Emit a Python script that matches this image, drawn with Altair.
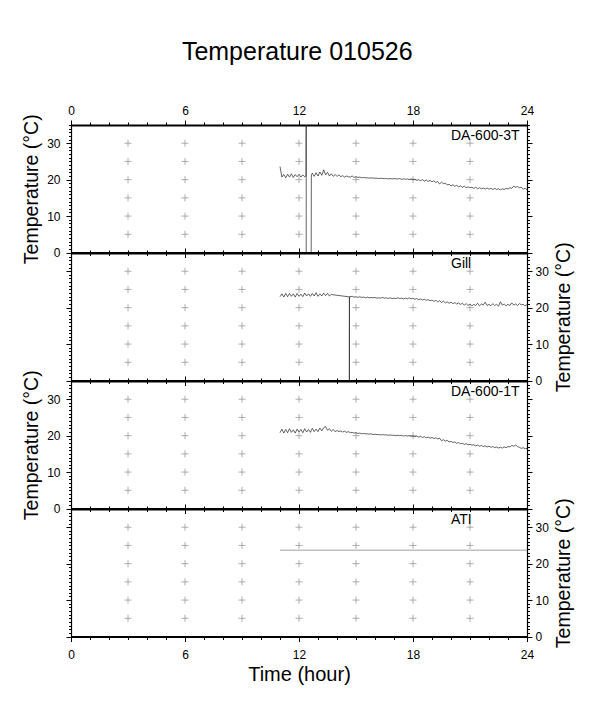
import altair as alt
import pandas as pd

FONT = "Liberation Sans"
TITLE = "Temperature 010526"
X_TITLE = "Time (hour)"
Y_TITLE = "Temperature (°C)"

HOUR_TICKS = list(range(0, 25))
TEMP_TICKS = list(range(0, 36))
GRID_HOURS = [3, 6, 9, 12, 15, 18, 21]
GRID_TEMPS = [5, 10, 15, 20, 25, 30]

STEP = 0.1

# ---- DA-600-3T ----
T3_A_START = 11.0
T3_A = [23.6, 20.7, 21.4, 20.5, 21.5, 20.7, 21.6, 20.6, 21.4, 20.8, 21.5, 20.7, 21.3, 20.8]
T3_GAP_HOURS = [12.37, 12.38, 12.38, 12.64, 12.65]
T3_GAP_TEMPS = [21.0, 45.0, -5.0, -5.0, 21.3]
T3_B_START = 12.7
T3_B = [
    21.8, 20.9, 21.9, 21.0, 22.1, 21.2, 22.7, 21.3, 22.0, 21.0,
    21.6, 20.9, 21.4, 20.9, 21.3, 20.8, 21.1, 20.7, 21.0, 20.8,
    20.7, 21.0, 20.6, 20.8, 20.6, 20.7, 20.5, 20.6, 20.5, 20.5,
    20.4, 20.5, 20.4, 20.4, 20.4, 20.3, 20.4, 20.3, 20.3, 20.3,
    20.2, 20.3, 20.2, 20.3, 20.2, 20.2, 20.3, 20.1, 20.2, 20.1,
    20.2, 20.0, 20.2, 20.0, 20.1, 19.8, 20.0, 19.7, 20.0, 19.6,
    19.9, 19.5, 19.8, 19.4, 19.7, 19.2, 19.5, 18.8, 19.3, 18.9,
    19.0, 18.6, 18.7, 18.3, 18.6, 18.2, 18.4, 18.0, 18.3, 17.9,
    18.2, 17.8, 18.0, 17.8, 17.9, 17.6, 17.9, 17.5, 17.8, 17.5,
    17.7, 17.4, 17.7, 17.4, 17.6, 17.3, 17.6, 17.3, 17.5, 17.2,
    17.5, 17.3, 17.6, 17.4, 17.8, 17.6, 18.2, 17.9, 18.1, 17.8,
    17.9, 17.4, 17.6, 17.3,
]

# ---- Gill ----
G_A_START = 11.0
G_A = [
    23.0, 23.8, 22.9, 23.9, 23.0, 23.9, 23.1, 23.8, 22.9, 23.9,
    23.1, 23.7, 23.0, 24.0, 23.2, 23.8, 23.1, 23.9, 23.2, 24.1,
    23.1, 23.8, 23.2, 24.0, 23.3, 23.9, 23.2, 23.6,
]
G_GAP_HOURS = [14.65, 14.65, 14.66]
G_GAP_TEMPS = [22.95, -5.0, 23.0]
G_B_START = 14.8
G_B = [
    23.1, 22.9, 23.0, 22.8, 23.0, 22.8, 22.9, 22.7, 22.9, 22.7,
    22.8, 22.7, 22.8, 22.6, 22.7, 22.6, 22.8, 22.6, 22.7, 22.5,
    22.7, 22.5, 22.6, 22.5, 22.7, 22.5, 22.6, 22.4, 22.6, 22.4,
    22.7, 22.4, 22.6, 22.3, 22.5, 22.2, 22.4, 22.1, 22.3, 22.0,
    22.2, 21.9, 22.1, 21.7, 22.0, 21.6, 21.9, 21.4, 21.8, 21.3,
    21.6, 21.2, 21.5, 21.1, 21.4, 21.0, 21.3, 20.9, 21.2, 20.7,
    21.1, 20.6, 21.0, 20.5, 20.9, 20.6, 21.2, 20.5, 21.0, 20.7,
    21.5, 20.6, 20.9, 20.5, 21.1, 20.6, 20.9, 20.4, 21.6, 20.7,
    21.0, 20.5, 20.9, 20.6, 21.3, 20.7, 21.0, 20.6, 21.1, 20.8,
    20.9, 20.5, 20.8,
]

# ---- DA-600-1T ----
T1_START = 11.0
T1 = [
    20.8, 21.8, 20.7, 21.7, 20.8, 21.9, 20.9, 21.6, 20.7, 21.8,
    21.0, 21.7, 20.8, 21.9, 21.0, 21.7, 20.9, 22.0, 21.1, 21.8,
    21.1, 22.1, 21.3, 22.2, 22.5, 21.5, 21.9, 21.2, 21.7, 21.1,
    21.4, 21.1, 21.3, 21.0, 21.2, 20.9, 21.1, 20.8, 20.9, 20.7,
    20.8, 20.6, 20.7, 20.5, 20.6, 20.5, 20.5, 20.4, 20.5, 20.3,
    20.4, 20.3, 20.3, 20.2, 20.3, 20.2, 20.2, 20.1, 20.2, 20.1,
    20.1, 20.0, 20.1, 20.0, 20.1, 19.9, 20.0, 19.9, 20.0, 19.8,
    19.9, 19.7, 19.9, 19.6, 19.8, 19.5, 19.7, 19.4, 19.6, 19.3,
    19.5, 19.2, 19.4, 19.1, 19.3, 18.6, 18.9, 18.5, 18.7, 18.3,
    18.4, 18.1, 18.3, 17.9, 18.1, 17.8, 17.9, 17.6, 17.8, 17.5,
    17.6, 17.4, 17.5, 17.2, 17.4, 17.1, 17.3, 17.0, 17.2, 16.9,
    17.1, 16.8, 17.0, 16.7, 16.9, 16.6, 16.8, 16.6, 16.9, 16.7,
    17.0, 16.9, 17.3, 17.1, 17.4, 17.0, 16.8, 16.5, 16.7, 16.4,
    16.5,
]

# ---- ATI ----
ATI_HOURS = [11.0, 24.0]
ATI_TEMPS = [23.7, 23.7]

NAMES = ["DA-600-3T", "Gill", "DA-600-1T", "ATI"]
LABEL_HOUR = 20.0
LABEL_TEMP = 32.0


def seg(start, vals):
    return [round(start + i * STEP, 3) for i in range(len(vals))], list(vals)


def frame(parts):
    hours, temps = [], []
    for h, t in parts:
        hours += list(h)
        temps += list(t)
    return pd.DataFrame({"hour": hours, "temp": temps, "idx": list(range(len(hours)))})


df3 = frame([seg(T3_A_START, T3_A), (T3_GAP_HOURS, T3_GAP_TEMPS), seg(T3_B_START, T3_B)])
dfg = frame([seg(G_A_START, G_A), (G_GAP_HOURS, G_GAP_TEMPS), seg(G_B_START, G_B)])
df1 = frame([seg(T1_START, T1)])
dfa = frame([(ATI_HOURS, ATI_TEMPS)])

grid_df = pd.DataFrame(
    [{"gx": h, "gy": t} for h in GRID_HOURS for t in GRID_TEMPS]
)

X_SCALE = alt.Scale(domain=[0, 24], nice=False, zero=False)
Y_SCALE = alt.Scale(domain=[0, 35], nice=False, zero=False)


def x_axis(orient, labels, title=None):
    kw = dict(
        orient=orient, values=HOUR_TICKS, labels=labels, grid=False,
        domainColor="black", domainWidth=2, tickColor="black", tickWidth=1,
        tickSize={"condition": {"test": "datum.value % 6 === 0", "value": 5}, "value": 3},
        title=title,
    )
    if labels:
        kw.update(
            labelExpr="datum.value % 6 === 0 ? datum.label : ''",
            labelFont=FONT, labelFontSize=12, labelColor="black",
            labelFlush=False, labelOverlap=False,
            labelPadding=3 if orient == "top" else 8,
        )
    if title:
        kw.update(titleFont=FONT, titleFontSize=20, titleFontWeight="normal",
                  titleColor="black", titlePadding=4)
    return alt.Axis(**kw)


def y_axis(orient, labels):
    kw = dict(
        orient=orient, values=TEMP_TICKS, labels=labels, grid=False,
        domainColor="black", domainWidth=1.2, tickColor="black", tickWidth=1,
        tickSize={"condition": {"test": "datum.value % 10 === 0", "value": 5}, "value": 2.5},
        title=Y_TITLE if labels else None,
    )
    if labels:
        kw.update(
            labelExpr="datum.value % 10 === 0 ? datum.label : ''",
            labelFont=FONT, labelFontSize=12, labelColor="black", labelOverlap=False,
            labelPadding=6 if orient == "left" else 3,
            titleFont=FONT, titleFontSize=19.5, titleFontWeight="normal",
            titleColor="black", titlePadding=5 if orient == "left" else 6,
        )
        if orient == "right":
            kw.update(titleAngle=270, titleBaseline="top")
    return alt.Axis(**kw)


def panel(df, name, label_side, top_labels, bottom_labels, color, width):
    grid = alt.Chart(grid_df).mark_point(
        shape="M-1,0L1,0M0,-1L0,1", size=49, filled=False,
        stroke="#999999", strokeWidth=0.8, opacity=1,
    ).encode(
        x=alt.X("gx:Q", scale=X_SCALE, axis=x_axis("top", top_labels)),
        y=alt.Y("gy:Q", scale=Y_SCALE, axis=y_axis("right", label_side == "right")),
    )
    line = alt.Chart(df).mark_line(color=color, strokeWidth=width, clip=True).encode(
        x=alt.X("hour:Q", scale=X_SCALE,
                axis=x_axis("bottom", bottom_labels, X_TITLE if bottom_labels else None)),
        y=alt.Y("temp:Q", scale=Y_SCALE, axis=y_axis("left", label_side == "left")),
        order="idx:Q",
    )
    label = alt.Chart(pd.DataFrame({"lx": [LABEL_HOUR], "ly": [LABEL_TEMP], "name": [name]})).mark_text(
        align="left", baseline="middle", font=FONT, fontSize=14, color="black",
    ).encode(
        x=alt.X("lx:Q", scale=X_SCALE, axis=None),
        y=alt.Y("ly:Q", scale=Y_SCALE, axis=None),
        text="name:N",
    )
    return alt.layer(grid, line, label).resolve_scale(
        x="independent", y="independent"
    ).properties(width=456, height=127.5)


p1 = panel(df3, NAMES[0], "left", True, False, "#222222", 0.7)
p2 = panel(dfg, NAMES[1], "right", False, False, "#222222", 0.7)
p3 = panel(df1, NAMES[2], "left", False, False, "#222222", 0.7)
p4 = panel(dfa, NAMES[3], "right", False, True, "#888888", 0.8)

chart = alt.vconcat(p1, p2, p3, p4, spacing=0, bounds="flush").properties(
    title=alt.TitleParams(TITLE, font=FONT, fontSize=25, fontWeight="normal",
                          color="black", anchor="middle", offset=39),
    padding={"left": 13, "top": 32, "right": 5, "bottom": 5},
).configure_view(strokeWidth=0)

chart.save("out.html", embed_options={"renderer": "svg", "actions": False})
